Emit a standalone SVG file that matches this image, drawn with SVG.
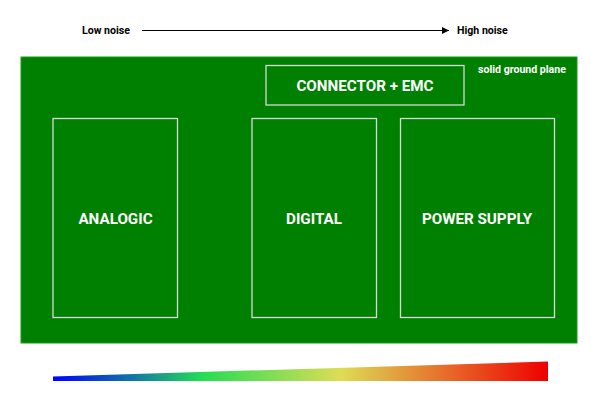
<svg xmlns="http://www.w3.org/2000/svg" width="600" height="418" viewBox="0 0 600 418">
<style>
.box{fill:none;stroke:#d8d8d8;stroke-width:1.3}
.lbl{font-family:Roboto,"Liberation Sans",sans-serif;font-weight:bold;font-size:15.2px;fill:#ffffff;text-anchor:middle}
.sm{font-family:Roboto,"Liberation Sans",sans-serif;font-weight:bold;font-size:10.6px}
</style>
<defs>
<marker id="ah" viewBox="0 0 10 10" refX="10" refY="5" markerWidth="7" markerHeight="7" markerUnits="userSpaceOnUse" orient="auto">
<path d="M0,0 L10,5 L0,10 z" fill="#000"/>
</marker>
<linearGradient id="grad" x1="53" y1="0" x2="548" y2="0" gradientUnits="userSpaceOnUse">
<stop offset="0" stop-color="#0000ff"/>
<stop offset="0.3" stop-color="#22dd55"/>
<stop offset="0.58" stop-color="#dddd55"/>
<stop offset="1" stop-color="#ee0000"/>
</linearGradient>
</defs>
<rect x="0" y="0" width="600" height="418" fill="#ffffff"/>
<g id="scale">
<text class="sm" x="82" y="34" fill="#000">Low noise</text>
<text class="sm" x="457" y="34" fill="#000">High noise</text>
</g>
<g id="connectors">
<line x1="142" y1="30.5" x2="449" y2="30.5" stroke="#000" stroke-width="1" marker-end="url(#ah)"/>
</g>
<g id="ground">
<rect x="21" y="57" width="556" height="286" fill="#008000" stroke="#1a9a1a" stroke-width="1"/>
<text class="sm" x="478" y="73" fill="#fff">solid ground plane</text>
</g>
<g id="connector-emc">
<rect class="box" x="266" y="65.5" width="198" height="39.5"/>
<text class="lbl" x="365" y="90.5">CONNECTOR + EMC</text>
</g>
<g id="analogic">
<rect class="box" x="53" y="118.5" width="124.5" height="199"/>
<text class="lbl" x="115.5" y="224">ANALOGIC</text>
</g>
<g id="digital">
<rect class="box" x="252" y="118.5" width="124.5" height="199"/>
<text class="lbl" x="314" y="224">DIGITAL</text>
</g>
<g id="power-supply">
<rect class="box" x="400.5" y="118.5" width="154" height="199"/>
<text class="lbl" x="477" y="224">POWER SUPPLY</text>
</g>
<g id="gradient">
<polygon points="53,376.5 548,361.5 548,381 53,381" fill="url(#grad)"/>
</g>
</svg>
